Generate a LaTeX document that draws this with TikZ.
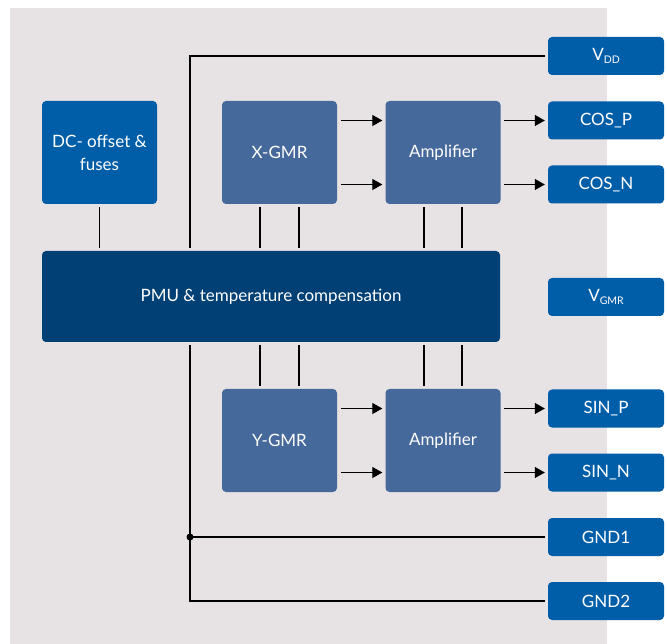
\documentclass[tikz,border=0pt]{standalone}
\usepackage{fontspec}
\setmainfont{Lato}
\usetikzlibrary{positioning,arrows.meta,calc}
\definecolor{bgray}{RGB}{231,227,229}
\definecolor{pinblue}{RGB}{0,94,168}
\definecolor{gmrblue}{RGB}{70,105,155}
\definecolor{pmublue}{RGB}{0,64,117}
\tikzset{
  blk/.style={rounded corners=4pt, align=center, text=white,
              font=\fontsize{17}{23}\selectfont, inner sep=2pt},
  gmrbox/.style={blk, fill=gmrblue, minimum width=115pt, minimum height=103pt},
  pinbox/.style={blk, fill=pinblue, minimum width=116pt, minimum height=38pt},
  link/.style={line width=1.2pt, black},
  flow/.style={link, -{Triangle[length=10pt,width=11pt]}},
}
\newcommand{\pinsub}[2]{#1\raisebox{-0.35ex}{\fontsize{10.5}{10.5}\selectfont #2}}

\begin{document}
\begin{tikzpicture}[x=1pt, y=-1pt]
    \useasboundingbox (0,0) rectangle (667,644);
    \fill[bgray] (10,8) rectangle (607,644);

    % function blocks
    \node[blk, fill=pinblue, minimum width=115pt, minimum height=103pt] (dc) at (99.5,152.5) {DC- offset \&\\fuses};
    \node[gmrbox] (xgmr) at (279.5,152.5) {X-GMR};
    \node[gmrbox] (xamp) at (443,152.5) {Amplifier};
    \node[blk, fill=pmublue, minimum width=458pt, minimum height=91pt] (pmu) at (271,296.5) {PMU \& temperature compensation};
    \node[gmrbox] (ygmr) at (279.5,440.5) {Y-GMR};
    \node[gmrbox] (yamp) at (443,440.5) {Amplifier};

    % pins
    \node[pinbox] (vdd) at (606,56) {\pinsub{V}{DD}};
    \node[pinbox] (cosp) at (606,120.5) {COS\_P};
    \node[pinbox] (cosn) at (606,184.5) {COS\_N};
    \node[pinbox] (vgmr) at (606,297) {\pinsub{V}{GMR}};
    \node[pinbox] (sinp) at (606,408.5) {SIN\_P};
    \node[pinbox] (sinn) at (606,472.5) {SIN\_N};
    \node[pinbox] (gndo) at (606,537) {GND1};
    \node[pinbox] (gndt) at (606,601) {GND2};

    % signal paths
    \foreach \gmr/\amp/\pin in {xgmr/xamp/cosp, xgmr/xamp/cosn, ygmr/yamp/sinp, ygmr/yamp/sinn} {
      \draw[flow, shorten <=4pt, shorten >=3pt] (\gmr.east |- \pin.west) -- (\amp.west |- \pin.west);
      \draw[flow, shorten <=3pt, shorten >=3pt] (\amp.east |- \pin.west) -- (\pin.west);
    }

    % links to the PMU
    \draw[link, shorten <=3pt, shorten >=3pt] (dc.south) -- (dc.south |- pmu.north);
    \foreach \blk/\dx in {xgmr/-19.5, xgmr/19.5, xamp/-19, xamp/19} {
      \draw[link, shorten <=3pt, shorten >=3pt] ([xshift=\dx pt]\blk.south) -- ([xshift=\dx pt]\blk.south |- pmu.north);
    }
    \foreach \blk/\dx in {ygmr/-19.5, ygmr/19.5, yamp/-19, yamp/19} {
      \draw[link, shorten <=3pt, shorten >=3pt] ([xshift=\dx pt]\blk.north) -- ([xshift=\dx pt]\blk.north |- pmu.south);
    }

    % supply and ground
    \draw[link, shorten <=3pt, shorten >=3pt] (vdd.west) -| ([xshift=-81pt]pmu.north);
    \coordinate (gndjoin) at ([xshift=-81pt]pmu.south |- gndo.west);
    \draw[link, shorten <=3pt, shorten >=3pt] ([xshift=-81pt]pmu.south) |- (gndt.west);
    \draw[link, shorten >=3pt] (gndjoin) -- (gndo.west);
    \fill (gndjoin) circle (3.5pt);
\end{tikzpicture}
\end{document}
